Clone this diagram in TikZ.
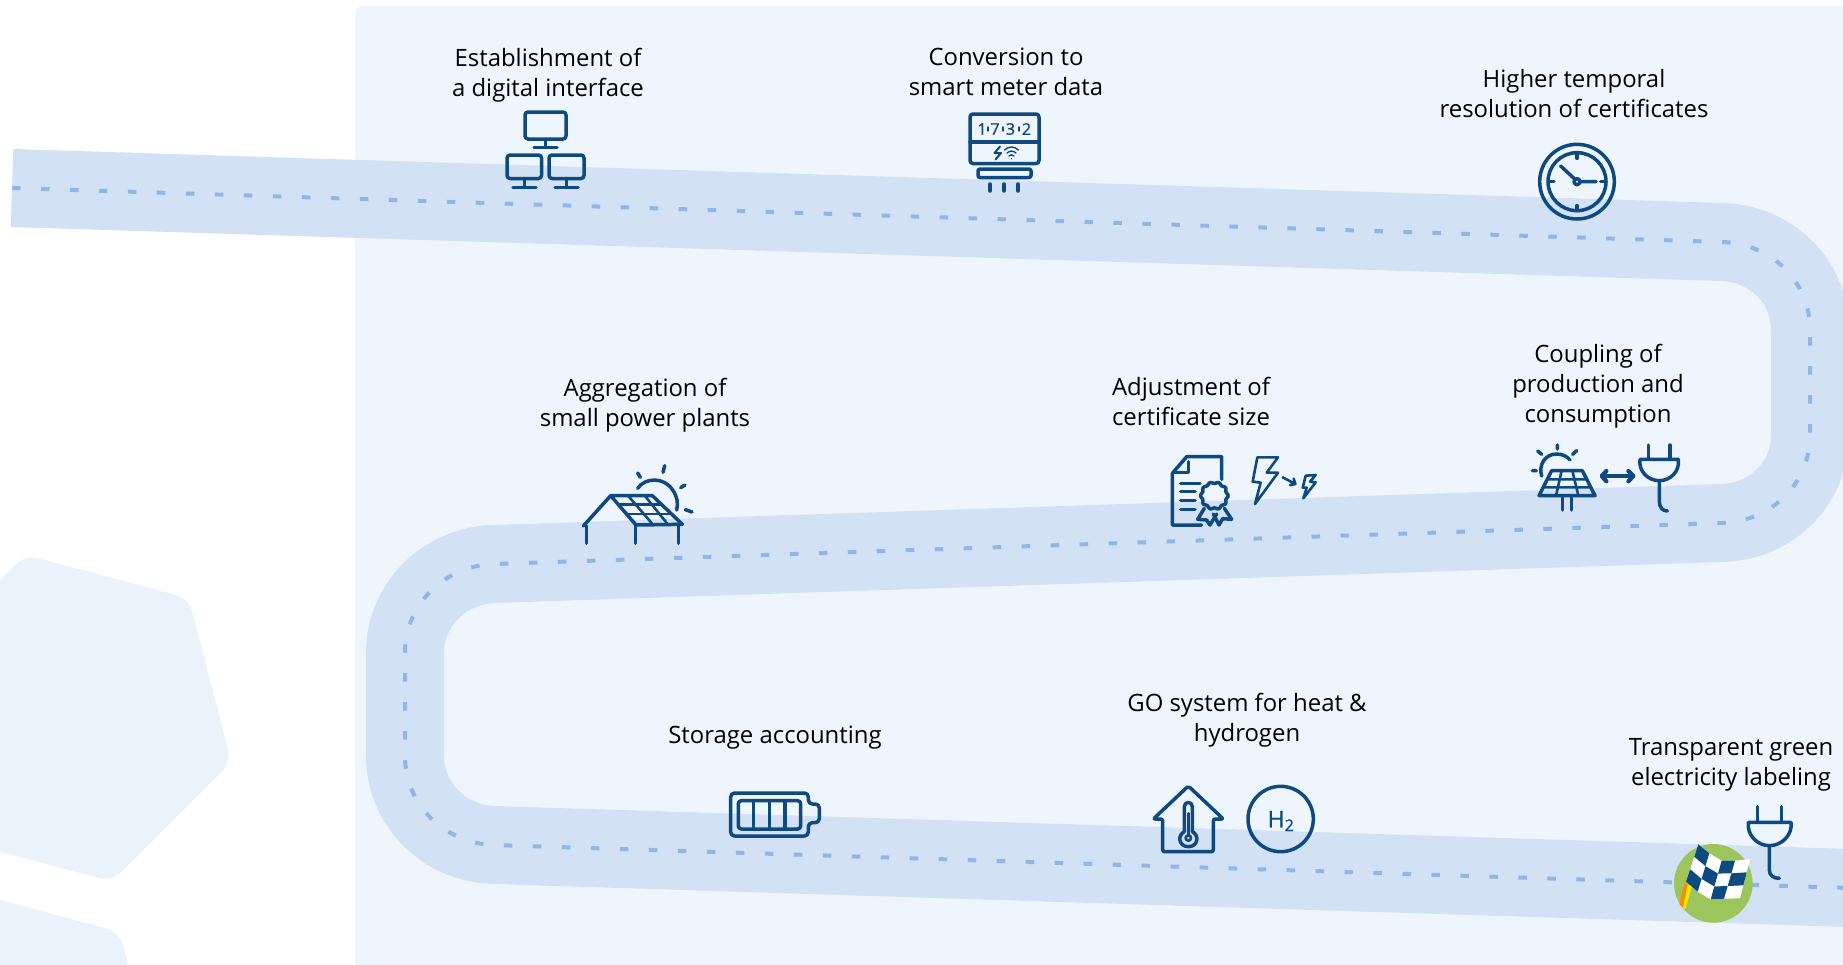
\documentclass[tikz,border=0pt]{standalone}
\usepackage{fontspec}
\setmainfont{Open Sans}
\newfontfamily\iconfont[FakeBold=1]{Open Sans}
\usetikzlibrary{calc}
\definecolor{panelc}{HTML}{EEF5FD}
\definecolor{roadc}{HTML}{D2E1F4}
\definecolor{dashc}{HTML}{8DB7E6}
\definecolor{hexc}{HTML}{EAF3FB}
\definecolor{iconc}{HTML}{0E4A80}
\definecolor{greenc}{HTML}{9CC65B}
\tikzset{
  road/.style={draw=roadc,line width=78pt,line cap=butt},
  centerline/.style={draw=dashc,line width=4pt,dash pattern=on 8.5pt off 20.5pt},
  label/.style={align=center,text=black,inner sep=0pt,font=\fontsize{23.9}{30}\selectfont},
  icon/.style={draw=iconc,line width=3.5pt,line cap=round,line join=round},
  iconthin/.style={draw=iconc,line width=2.6pt,line cap=round,line join=round},
  digit/.style={inner sep=0pt,text=iconc,font=\iconfont\fontsize{16}{16}\selectfont},
  zoomed/.style={shift={#1},x=0.33333pt,y=-0.33333pt},
}
\def\roadpath{(12,188) -- (1722,242) .. controls (1771,243.5) and (1810,281) .. (1810,330) -- (1810,435) .. controls (1810,484) and (1771,521.5) .. (1722,523) -- (494,564) .. controls (445,565.5) and (405,604) .. (405,653) -- (405,756) .. controls (405,805) and (445,843.5) .. (494,845) -- (1850,888)}
\begin{document}
\begin{tikzpicture}[x=1pt,y=-1pt]
\useasboundingbox (0,0) rectangle (1843,964);
\clip (0,0) rectangle (1843,964);
\fill[white] (0,0) rectangle (1843,964);
% hexagons
\fill[hexc,rounded corners=13pt] (-40,620) -- (25.3,554.7) -- (188.7,598.3) -- (231.3,762) -- (111.8,881.5) -- (-40,841) -- cycle;
\fill[hexc,rounded corners=13pt] (-40,889) -- (119.5,932) -- (135,990) -- (-40,990) -- cycle;
% panel
\fill[panelc,rounded corners=8pt] (355,6) rectangle (1900,1000);
% road
\draw[road] \roadpath;
\draw[centerline] \roadpath;

% labels
\node[label] (t1) at (548,75.5) {Establishment of\\a digital interface};
\node[label] (t2) at (1006,72) {Conversion to\\smart meter data};
\node[label] (t3) at (1574,94) {Higher temporal\\resolution of certificates};
\node[label] (t4) at (645,405.5) {Aggregation of\\small power plants};
\node[label] (t5) at (1191,401.5) {Adjustment of\\certificate size};
\node[label] (t6) at (1598,386.5) {Coupling of\\production and\\consumption};
\node[label] (t7) at (775,738) {Storage accounting};
\node[label] (t8) at (1247,720.5) {GO system for heat \&\\hydrogen};
\node[label] (t9) at (1731,765) {Transparent green\\electricity labeling};

% network icon
\draw[icon,rounded corners=3pt] (525,112) rectangle (566,139);
\draw[icon] (545.5,139) -- (545.5,147.5) (534,147.5) -- (557,147.5);
\draw[icon,rounded corners=3pt] (507,155) rectangle (541.5,178.5);
\draw[icon] (524.5,178.5) -- (524.5,187.5) (513,187.5) -- (536,187.5);
\draw[icon,rounded corners=3pt] (549,155) rectangle (584,178.5);
\draw[icon] (566.5,178.5) -- (566.5,187.5) (555,187.5) -- (578,187.5);

% meter icon
\draw[icon,rounded corners=3pt] (970,114) rectangle (1039,163.5);
\draw[icon] (970,142) -- (1039,142);
\node[digit] (d1) at (982,129) {1};
\node[digit] (d2) at (995,129) {7};
\node[digit] (d3) at (1010.5,129) {3};
\node[digit] (d4) at (1026.5,129) {2};
\draw[iconthin,line width=1.4pt] (988,127) -- (988,131) (1003,127) -- (1003,131) (1019,127) -- (1019,131);
\draw[iconthin,line width=2pt] (1000,146.5) -- (994.5,153) -- (1001,153) -- (995.5,159.5);
\draw[iconthin,line width=1.4pt] (1004.5,150) .. controls (1009,146) and (1014,146) .. (1018.5,150)
  (1007,153) .. controls (1010,150.5) and (1013,150.5) .. (1016,153)
  (1009,156) .. controls (1011,154.5) and (1012,154.5) .. (1014,156)
  (1011.5,158.5) -- (1011.5,158.7);
\draw[icon,rounded corners=2pt] (978,169) -- (978,177.5) -- (1031,177.5) -- (1031,169) -- cycle;
\draw[icon] (990,184) -- (990,191) (1004,184) -- (1004,191) (1018,184) -- (1018,191);

% clock icon
\begin{scope}[zoomed={(1480,120)}]
\draw[icon] (291,185) circle[radius=112];
\draw[icon] (291,185) circle[radius=87];
\draw[icon] (291,185) circle[radius=9];
\draw[icon] (285,178) -- (242,138) (300,185) -- (348,185);
\draw[icon] (291,100) -- (291,115) (291,257) -- (291,272) (206,185) -- (222,185) (362,185) -- (378,185);
\end{scope}

% rooftop solar icon
\begin{scope}[zoomed={(560,440)}]
\draw[icon] (70,258) -- (152,167) -- (277,167) -- (367,253) -- (228,255) -- (152,167);
\draw[icon] (79,258) -- (79,310) (227,255) -- (227,310) (355,255) -- (355,310);
\draw[iconthin] (178,193) -- (302,193) (203,222) -- (332,222);
\draw[iconthin] (205,168) -- (280,255) (255,168) -- (325,255);
\draw[icon] (233,145) .. controls (255,112) and (312,110) .. (338,150) .. controls (352,170) and (355,190) .. (350,210);
\draw[icon] (233,99) -- (241,112) (314,77) -- (309,97) (375,135) -- (362,143) (376,209) -- (396,216);
\end{scope}

% certificate icon
\begin{scope}[zoomed={(1150,440)}]
\draw[icon] (215,118) -- (215,50) -- (110,50) -- (67,100) -- (67,255) -- (155,255);
\draw[icon] (115,65) -- (115,98) -- (70,98);
\draw[icon] (92,130) -- (150,130) (92,155) -- (135,155) (92,182) -- (135,182) (92,208) -- (135,208);
\draw[icon] plot[smooth,domain=0:360,samples=61] ({193+(39+2.5*cos(10*\x))*cos(\x)},{167+(39+2.5*cos(10*\x))*sin(\x)});
\draw[icon] (163,205) -- (143,238) -- (170,240) -- (180,255) -- (200,222);
\draw[icon] (223,205) -- (245,238) -- (218,236) -- (207,255) -- (190,222);
\draw[iconthin] (322,52) -- (384,52) -- (350,98) -- (384,98) -- (315,192) -- (332,128) -- (308,125) -- cycle;
\draw[iconthin] (467,107) -- (497,105) -- (480,125) -- (497,127) -- (460,175) -- (470,143) -- (458,143) -- cycle;
\draw[iconthin] (398,112) -- (436,132) (420,135) -- (436,132) -- (431,116);
\end{scope}

% solar panel and plug icon
\begin{scope}[zoomed={(1510,430)}]
\draw[icon] (95,138) .. controls (85,105) and (105,72) .. (140,72) .. controls (158,72) and (172,80) .. (180,90);
\draw[icon] (83,63) -- (95,73) (142,45) -- (142,57) (200,62) -- (188,73) (67,122) -- (79,122);
\draw[icon] (125,122) -- (217,122) -- (255,197) -- (87,197) -- cycle;
\draw[iconthin] (113,148) -- (230,148) (100,172) -- (243,172) (155,122) -- (138,197) (187,122) -- (205,197);
\draw[icon] (158,197) -- (158,240) (184,197) -- (184,240);
\draw[icon,line width=4.2pt] (285,138) -- (362,138);
\draw[icon,line width=4.2pt] (289,123) -- (275,138) -- (289,154) (355,123) -- (370,138) -- (355,154);
\draw[icon] (415,45) -- (415,88) (480,45) -- (480,88);
\draw[icon] (390,88) -- (505,88) .. controls (510,125) and (480,152) .. (448,152) .. controls (415,152) and (385,125) .. (390,88);
\draw[icon] (448,152) -- (448,215) .. controls (448,232) and (458,243) .. (472,243);
\end{scope}

% battery icon
\begin{scope}[zoomed={(710,770)}]
\draw[icon,rounded corners=4pt] (295,102) -- (295,69) -- (62,69) -- (62,198) -- (295,198) -- (295,158) -- (328,158) -- (328,102) -- cycle;
\draw[icon,rounded corners=3pt] (85,92) rectangle (272,177);
\draw[icon] (130,92) -- (130,177) (178,92) -- (178,177) (225,92) -- (225,177);
\end{scope}

% house and hydrogen icons
\begin{scope}[zoomed={(1140,770)}]
\draw[icon,rounded corners=2pt] (145,48) -- (250,147) -- (220,147) -- (220,245) -- (68,245) -- (68,147) -- (40,147) -- cycle;
\draw[icon] (133,185) -- (133,110) .. controls (133,93) and (157,93) .. (157,110) -- (157,185) .. controls (178,195) and (175,230) .. (145,230) .. controls (115,230) and (112,195) .. (133,185);
\draw[iconthin] (145,130) -- (145,195);
\draw[iconthin] (145,204) circle[radius=8];
\draw[icon] (422,147) circle[radius=98];
\end{scope}
\node[inner sep=0pt,text=iconc,font=\iconfont\fontsize{23}{23}\selectfont] (h2) at (1281,821) {H\textsubscript{2}};

% finish icon
\begin{scope}[zoomed={(1660,790)}]
\draw[icon] (293,50) -- (293,95) (364,50) -- (364,95);
\draw[icon] (265,97) -- (393,97) .. controls (398,135) and (365,167) .. (328,167) .. controls (292,167) and (260,135) .. (265,97);
\draw[icon] (328,167) -- (328,240) .. controls (328,256) and (340,265) .. (358,265);
\fill[greenc] (160,280) circle[radius=118];
\fill[orange!90!yellow] (73,281) -- (83,284) -- (69,353) -- (58,342) -- cycle;
\fill[yellow!90!orange] (83,284) -- (96,288) -- (76,358) -- (69,353) -- cycle;
\coordinate (t0) at (115,163);
\coordinate (t1a) at (148,190);
\coordinate (t2a) at (185,212);
\coordinate (t3a) at (225,212);
\coordinate (t4a) at (270,208);
\coordinate (b0) at (78,275);
\coordinate (b1a) at (113,305);
\coordinate (b2a) at (152,328);
\coordinate (b3a) at (192,326);
\coordinate (b4a) at (240,325);
\fill[white] (t0) -- (t1a) -- (t2a) -- (t3a) -- (t4a) -- (b4a) -- (b3a) -- (b2a) -- (b1a) -- (b0) -- cycle;
\foreach \ta/\tb/\ba/\bb/\j in {t0/t1a/b0/b1a/0,t0/t1a/b0/b1a/2,t1a/t2a/b1a/b2a/1,t2a/t3a/b2a/b3a/0,t2a/t3a/b2a/b3a/2,t3a/t4a/b3a/b4a/1}{
  \fill[iconc] ($(\ta)!\j/3!(\ba)$) -- ($(\tb)!\j/3!(\bb)$) -- ($(\tb)!\j/3+1/3!(\bb)$) -- ($(\ta)!\j/3+1/3!(\ba)$) -- cycle;
}
\end{scope}
\end{tikzpicture}
\end{document}
